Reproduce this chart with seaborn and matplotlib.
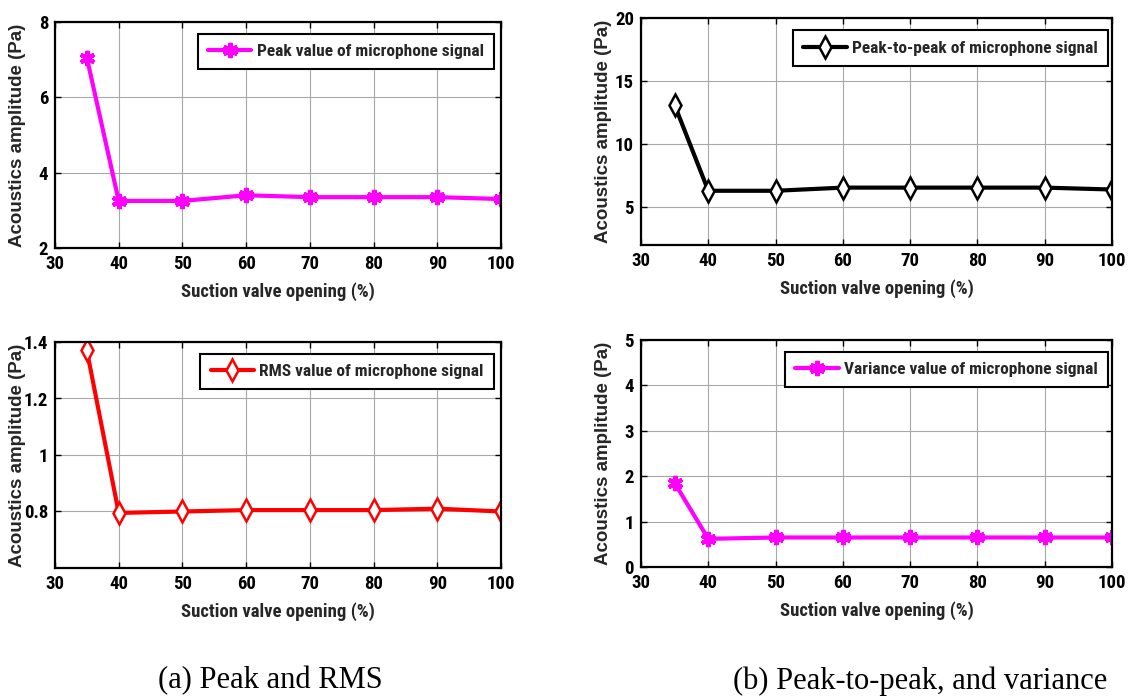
import matplotlib
matplotlib.use("Agg")
import matplotlib.pyplot as plt
import seaborn as sns
import pandas as pd

opening = [35, 40, 50, 60, 70, 80, 90, 100]
peak = [7.05, 3.25, 3.25, 3.40, 3.35, 3.35, 3.35, 3.30]
peak_to_peak = [13.1, 6.3, 6.3, 6.55, 6.55, 6.55, 6.55, 6.4]
rms = [1.37, 0.795, 0.80, 0.805, 0.805, 0.805, 0.81, 0.80]
variance = [1.85, 0.62, 0.65, 0.65, 0.65, 0.65, 0.65, 0.65]

x_ticks = [30, 40, 50, 60, 70, 80, 90, 100]
xlabel = "Suction valve opening (%)"
ylabel = "Acoustics amplitude (Pa)"
captions = ["(a) Peak and RMS", "(b) Peak-to-peak, and variance"]

sns.set_theme(style="white")
narrow = "Roboto Condensed"
plt.rcParams['font.family'] = [narrow, 'DejaVu Sans']

W, H = 1132, 699
fig = plt.figure(figsize=(W / 100, H / 100), dpi=100)

def ax_at(l, t, r, b):
    return fig.add_axes([l / W, 1 - b / H, (r - l) / W, (b - t) / H])

panels = [
    dict(box=(55, 22, 501, 248), y=peak, label="Peak value of microphone signal",
         color="#ff00ff", marker="*", ylim=(2, 8), yticks=[2, 4, 6, 8], yfmt=None,
         leg=(220, 33, 494, 70), ylx=17.5),
    dict(box=(641, 18, 1112, 245), y=peak_to_peak, label="Peak-to-peak of microphone signal",
         color="black", marker="d", ylim=(2, 20), yticks=[5, 10, 15, 20], yfmt=None,
         leg=(797, 30, 1108, 66), ylx=604),
    dict(box=(55, 342, 501, 568), y=rms, label="RMS value of microphone signal",
         color="#ff0000", marker="d", ylim=(0.6, 1.4), yticks=[0.8, 1.0, 1.2, 1.4],
         yfmt=["0.8", "1", "1.2", "1.4"], leg=(223, 353, 494, 390), ylx=17.5),
    dict(box=(641, 340, 1112, 567), y=variance, label="Variance value of microphone signal",
         color="#ff00ff", marker="*", ylim=(0, 5), yticks=[0, 1, 2, 3, 4, 5], yfmt=None,
         leg=(783, 351, 1108, 388), ylx=604),
]

for p in panels:
    ax = ax_at(*p["box"])
    df = pd.DataFrame({"x": opening, "y": p["y"]})
    if p["marker"] == "d":
        mk = dict(marker="d", markersize=11, markeredgewidth=1.8,
                  markerfacecolor="white", markeredgecolor=p["color"])
    else:
        mk = dict(marker=(6, 2, 0), markersize=11, markeredgewidth=3,
                  markerfacecolor=p["color"], markeredgecolor=p["color"])
    sns.lineplot(data=df, x="x", y="y", ax=ax, color=p["color"], linewidth=3,
                 label=p["label"], **mk)
    ax.set_xlim(30, 100)
    ax.set_ylim(*p["ylim"])
    ax.set_xticks(x_ticks)
    ax.set_yticks(p["yticks"])
    if p["yfmt"]:
        ax.set_yticklabels(p["yfmt"])
    ax.grid(True, color="#a8a8a8", linewidth=0.8)
    for s in ax.spines.values():
        s.set_color("black")
        s.set_linewidth(1.6)
    ax.tick_params(axis="both", direction="in", length=4, width=1, colors="black",
                   labelsize=13.5, top=True, right=True, bottom=True, left=True)
    ax.tick_params(axis="x", pad=5)
    ax.tick_params(axis="y", pad=5)
    for t in ax.get_xticklabels() + ax.get_yticklabels():
        t.set_fontweight("bold")
    ax.set_xlabel(xlabel, fontsize=13.5, fontweight="bold", labelpad=7)
    ax.set_ylabel(ylabel, fontsize=13.5, fontweight="bold", family=["Liberation Sans", "DejaVu Sans"],
                  va="center")
    l, t, r, b = p["box"]
    ax.yaxis.set_label_coords((p["ylx"] - l) / (r - l), 0.5)
    ll, lt, lr, lb = p["leg"]
    leg = ax.legend(loc="center right", bbox_to_anchor=((lr - l) / (r - l),
                                                        1 - ((lt + lb) / 2 - t) / (b - t)),
                    frameon=True, fancybox=False, edgecolor="black", framealpha=1,
                    prop=dict(family=narrow, weight="bold", size=12.5),
                    handlelength=2.5, borderpad=0.6, handletextpad=0.3, borderaxespad=0)
    leg.get_frame().set_linewidth(1.5)

fig.text(270 / W, 1 - 681 / H, captions[0], family="Liberation Serif", fontsize=22,
         ha="center", va="center", color="black")
fig.text(920 / W, 1 - 681 / H, captions[1], family="Liberation Serif", fontsize=22,
         ha="center", va="center", color="black")

fig.savefig("out.png", dpi=100, facecolor="white")
